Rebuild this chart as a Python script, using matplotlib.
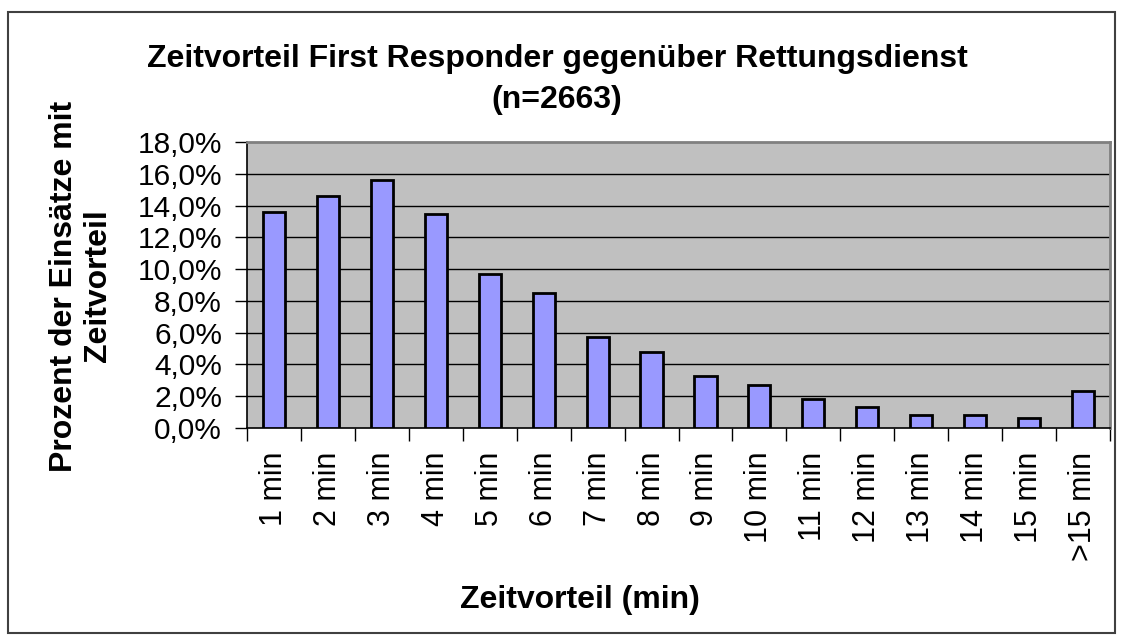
import matplotlib
matplotlib.use("Agg")
import matplotlib.pyplot as plt
from matplotlib.patches import Rectangle
from matplotlib.ticker import FuncFormatter, FixedLocator

plt.rcParams['font.family'] = ['Liberation Sans', 'DejaVu Sans']

# Data (percent of cases)
categories = ["1 min", "2 min", "3 min", "4 min", "5 min", "6 min", "7 min", "8 min",
              "9 min", "10 min", "11 min", "12 min", "13 min", "14 min", "15 min", ">15 min"]
percent = [13.6, 14.6, 15.6, 13.5, 9.7, 8.5, 5.7, 4.8,
           3.3, 2.7, 1.85, 1.3, 0.8, 0.8, 0.6, 2.3]
y_ticks = [0, 2, 4, 6, 8, 10, 12, 14, 16, 18]

W, H = 1123, 641
fig = plt.figure(figsize=(W / 100, H / 100), dpi=100)
fig.patch.set_facecolor('white')

# outer chart border
fig.patches.append(Rectangle((8 / W, 1 - 633 / H), (1115 - 8) / W, (633 - 12) / H,
                             transform=fig.transFigure, fill=False,
                             edgecolor='#404040', linewidth=1.5))

ax = fig.add_axes([247 / W, 1 - 428 / H, (1110 - 247) / W, (428 - 142) / H])
ax.set_facecolor('#C0C0C0')

x = list(range(len(categories)))
ax.bar(x, percent, width=0.41, color='#9999FF', edgecolor='black', linewidth=2, zorder=3)

ax.set_xlim(-0.5, len(categories) - 0.5)
ax.set_ylim(0, 18)

# gridlines
for yv in y_ticks[1:-1]:
    ax.axhline(yv, color='black', linewidth=1.0, zorder=1)

ax.yaxis.set_major_locator(FixedLocator(y_ticks))
ax.yaxis.set_major_formatter(FuncFormatter(lambda v, p: f"{v:.1f}%".replace('.', ',')))
ax.tick_params(axis='y', direction='out', length=9, width=1, pad=9, labelsize=21.5, colors='black')

ax.set_xticks(x)
ax.set_xticklabels(categories, rotation=90)
ax.set_xticks([i + 0.5 for i in range(-1, len(categories))], minor=True)
ax.tick_params(axis='x', which='major', length=0, pad=17, labelsize=22)
ax.tick_params(axis='x', which='minor', direction='out', length=9, width=1, color='black')

for s in ['left', 'bottom']:
    ax.spines[s].set_color('black')
    ax.spines[s].set_linewidth(1.2)
for s in ['top', 'right']:
    ax.spines[s].set_color('#808080')
    ax.spines[s].set_linewidth(2)

fig.text(557 / W, 1 - 79.5 / H, "Zeitvorteil First Responder gegenüber Rettungsdienst\n(n=2663)",
         ha='center', va='center', fontsize=23, fontweight='bold', linespacing=1.47)
fig.text(81 / W, 1 - 286 / H, "Prozent der Einsätze mit\nZeitvorteil", rotation=90,
         ha='center', va='center', fontsize=23, fontweight='bold', linespacing=1.15)
fig.text(580 / W, 1 - 600 / H, "Zeitvorteil (min)", ha='center', va='center',
         fontsize=23, fontweight='bold')

fig.savefig('out.png', dpi=100, facecolor='white')
